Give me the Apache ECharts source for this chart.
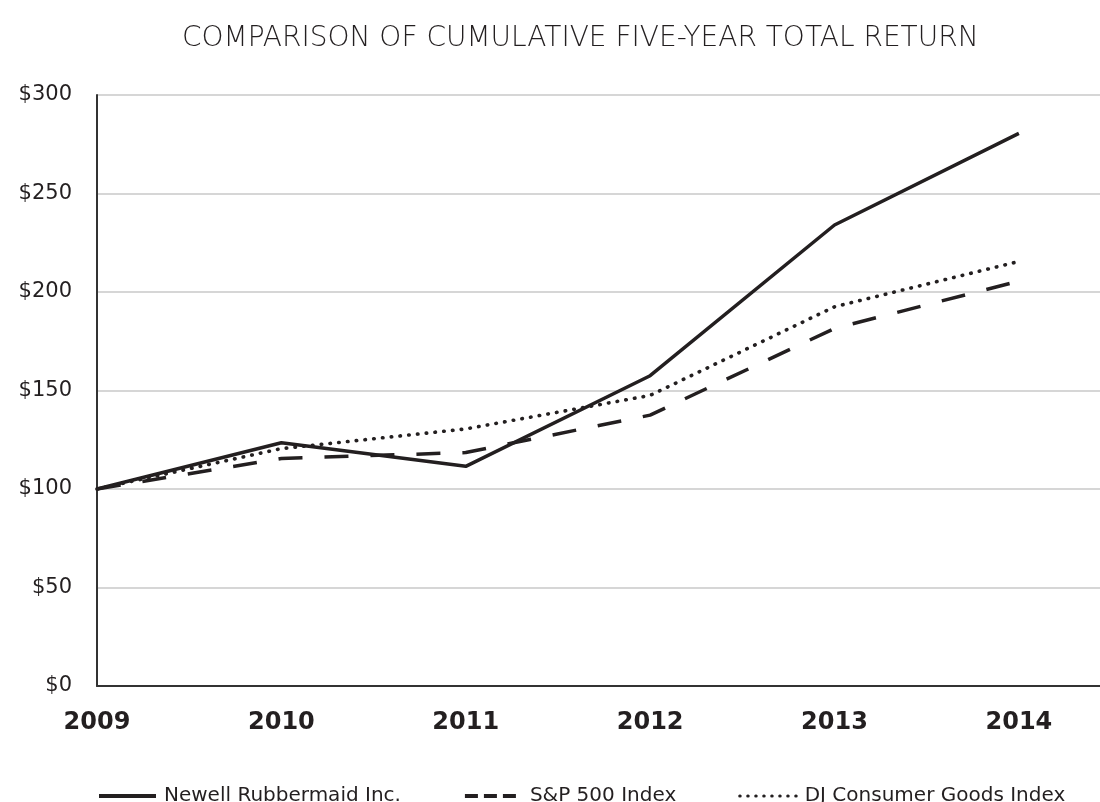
<!DOCTYPE html>
<html><head><meta charset="utf-8">
<script src="https://cdn.jsdelivr.net/npm/echarts@6/dist/echarts.min.js"></script>
<style>html,body{margin:0;padding:0;background:#fff}#c{width:1100px;height:802px}</style>
</head><body><div id="c"></div>
<script>
const years = [2009, 2010, 2011, 2012, 2013, 2014];
const newell = [100, 123.5, 111.5, 157.5, 234, 280.5];
const sp500 = [100, 115.5, 118.5, 137.5, 181.5, 205.5];
const djConsumer = [100, 120.5, 130.5, 147.5, 192.5, 215.5];
const yTicks = [0, 50, 100, 150, 200, 250, 300];
const seriesNames = ['Newell Rubbermaid Inc.', 'S&P 500 Index', 'DJ Consumer Goods Index'];

const pair = arr => years.map((y, i) => [y, arr[i]]);
const FONT = '"DejaVu Sans", sans-serif';
const INK = '#231f20';
const chart = echarts.init(document.getElementById('c'));
const lineCommon = { type: 'line', symbol: 'none', showSymbol: false, z: 3 };
const hiddenSym = { opacity: 0, color: 'rgba(0,0,0,0)', borderWidth: 0 };
chart.setOption({
  animation: false,
  title: {
    text: 'COMPARISON OF CUMULATIVE FIVE-YEAR TOTAL RETURN',
    left: 177, top: 20,
    textStyle: { fontFamily: FONT, fontWeight: 200, fontSize: 28, color: INK }
  },
  grid: { left: 97, right: 0, top: 95, bottom: 116, containLabel: false },
  legend: {
    top: 781, left: 92, itemWidth: 57, itemHeight: 14, itemGap: 62,
    textStyle: { fontFamily: FONT, fontSize: 20, color: INK, padding: [0, 0, 0, 3] },
    itemStyle: hiddenSym,
    data: [
      { name: seriesNames[0], itemStyle: hiddenSym, lineStyle: { color: INK, width: 4, type: 'solid' } },
      { name: seriesNames[1], itemStyle: hiddenSym, lineStyle: { color: INK, width: 4, type: [13, 6] } },
      { name: seriesNames[2], itemStyle: hiddenSym, lineStyle: { color: INK, width: 3, type: [0.5, 7.5], cap: 'round' } }
    ]
  },
  xAxis: {
    type: 'value', min: 2009, max: 2014.44, interval: 1,
    axisLine: { show: true, lineStyle: { color: '#333', width: 2 } },
    axisTick: { show: false },
    splitLine: { show: false },
    axisLabel: {
      showMaxLabel: false, margin: 25,
      fontFamily: FONT, fontWeight: 'bold', fontSize: 24, color: INK,
      formatter: v => (Number.isInteger(v) ? String(v) : '')
    }
  },
  yAxis: {
    type: 'value', min: yTicks[0], max: yTicks[yTicks.length - 1], interval: 50,
    axisLine: { show: true, lineStyle: { color: '#333', width: 2 } },
    axisTick: { show: false },
    splitLine: { show: true, lineStyle: { color: '#c8c8c8', width: 1.5 } },
    axisLabel: {
      margin: 25, fontFamily: FONT, fontSize: 21, color: INK,
      formatter: v => '$' + v
    }
  },
  series: [
    Object.assign({}, lineCommon, { name: seriesNames[0], data: pair(newell),
      lineStyle: { color: INK, width: 3.5, type: 'solid' }, itemStyle: { color: INK } }),
    Object.assign({}, lineCommon, { name: seriesNames[1], data: pair(sp500),
      lineStyle: { color: INK, width: 3.5, type: [24, 22] }, itemStyle: { color: INK } }),
    Object.assign({}, lineCommon, { name: seriesNames[2], data: pair(djConsumer),
      lineStyle: { color: INK, width: 3.6, type: [0.5, 8.3], cap: 'round' }, itemStyle: { color: INK } })
  ]
});
</script></body></html>
